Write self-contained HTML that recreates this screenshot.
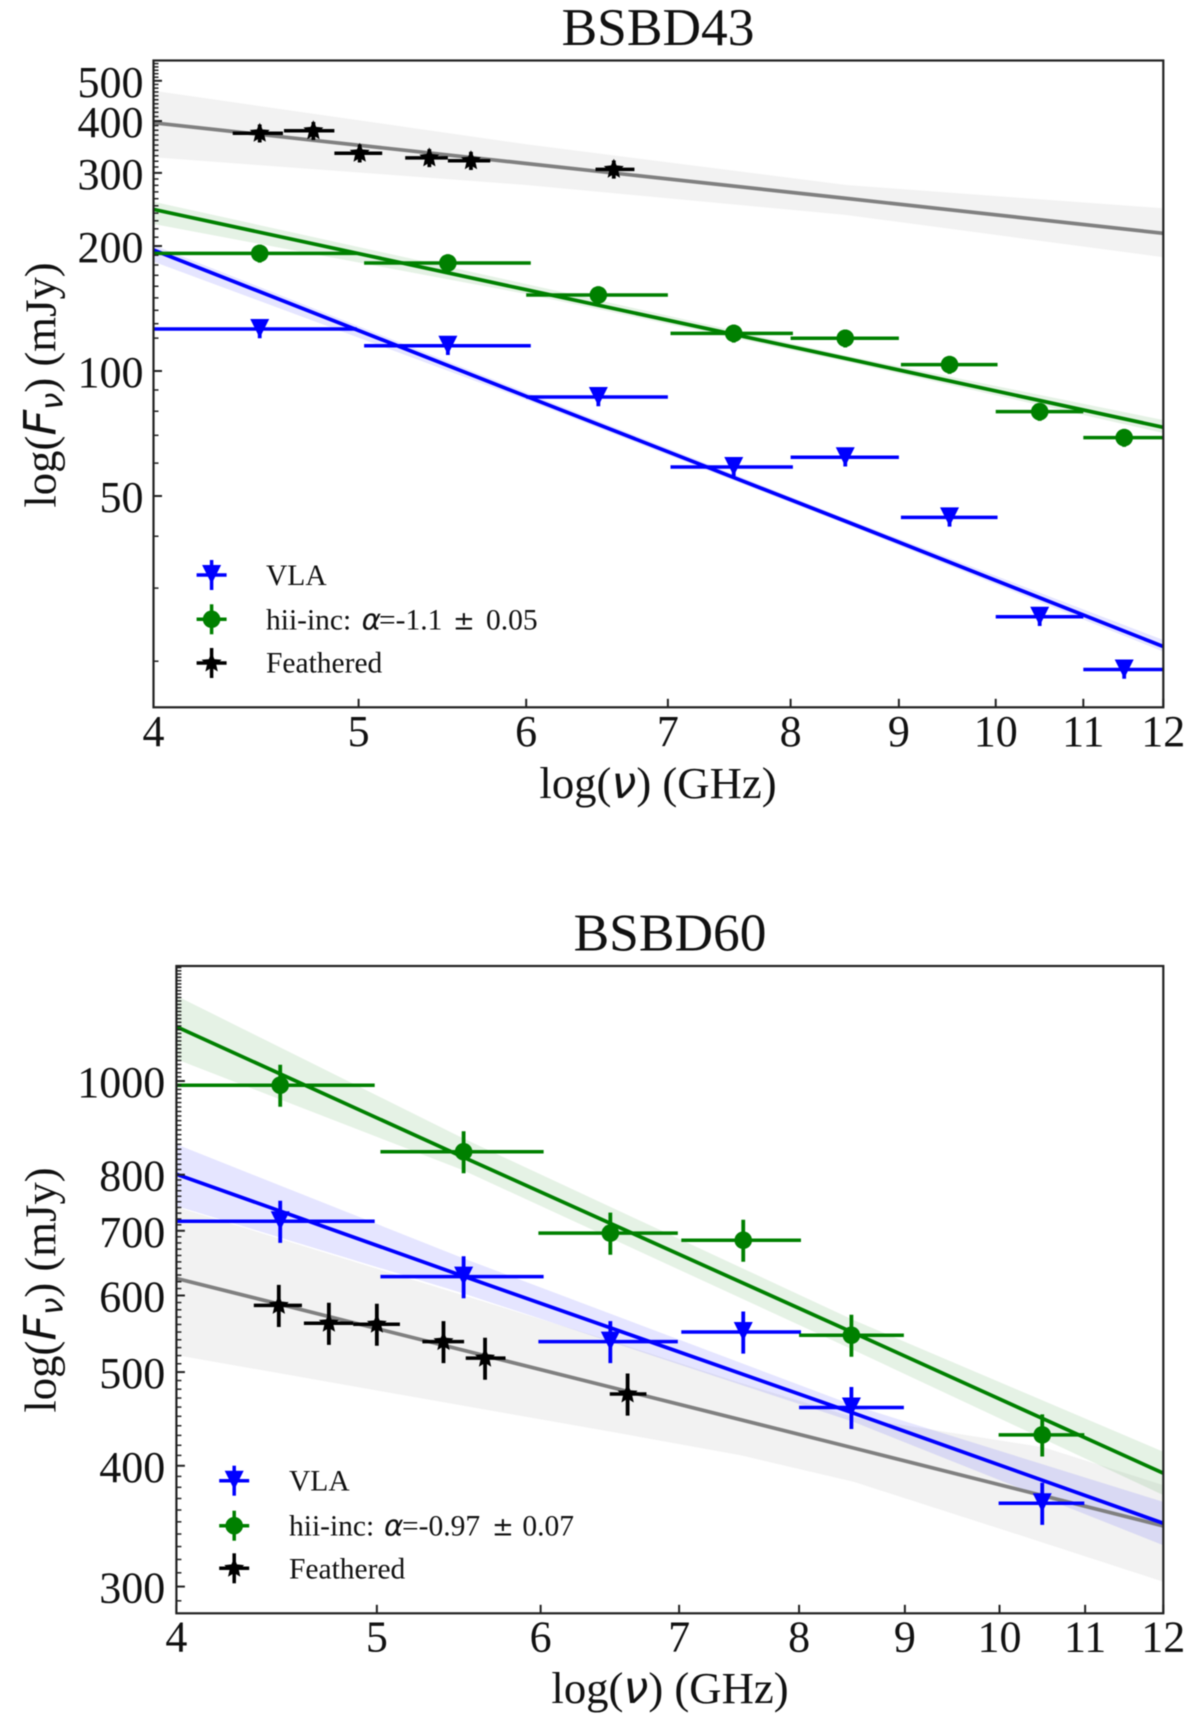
<!DOCTYPE html>
<html lang="en">
<head>
<meta charset="utf-8">
<title>BSBD43 and BSBD60 spectra</title>
<style>
html,body{margin:0;padding:0;background:#fff;}
svg{display:block;filter:blur(0.55px);}
text{font-family:"Liberation Serif",serif;fill:#111;}
.math{font-family:"DejaVu Sans",sans-serif;font-style:italic;}
.pm{font-family:"DejaVu Sans",sans-serif;font-size:26px;}
.title{font-size:53.4px;text-anchor:middle;}
.axis-label{font-size:44.7px;}
.tick{font-size:44px;}
.legend{font-size:29.5px;}
</style>
</head>
<body>
<svg id="chart" xmlns="http://www.w3.org/2000/svg" width="1200" height="1728" viewBox="0 0 1200 1728">
  <defs>
    <clipPath id="clip-p1"><rect x="153.5" y="60.5" width="1009.8" height="646.8"/></clipPath>
    <clipPath id="clip-p2"><rect x="176.4" y="966" width="986.9" height="647.3"/></clipPath>
  </defs>
  <rect width="1200" height="1728" fill="#fff"/>

  <g id="panel-1">
    <text class="title" x="658" y="45">BSBD43</text>
    <g id="p1-marks" clip-path="url(#clip-p1)"></g>
    <g id="p1-axes"></g>
    <rect x="153.5" y="60.5" width="1009.8" height="646.8" fill="none" stroke="#222" stroke-width="2.2"/>
    <text class="axis-label" x="658" y="798" text-anchor="middle">log(<tspan class="math">ν</tspan>) (GHz)</text>
    <text class="axis-label" transform="translate(55.5 385) rotate(-90)" text-anchor="middle">log(<tspan class="math">F</tspan><tspan class="math" font-size="31" dy="7">ν</tspan><tspan dy="-7">) (mJy)</tspan></text>
    <g id="p1-legend">
      <text class="legend" x="266" y="585">VLA</text>
      <text class="legend" x="266" y="629.3">hii-inc:<tspan class="math" x="361.6">α</tspan><tspan x="379">=-1.1</tspan><tspan class="pm" x="453">±</tspan><tspan x="486">0.05</tspan></text>
      <text class="legend" x="266" y="672.7">Feathered</text>
    </g>
  </g>

  <g id="panel-2">
    <text class="title" x="670" y="950.7">BSBD60</text>
    <g id="p2-marks" clip-path="url(#clip-p2)"></g>
    <g id="p2-axes"></g>
    <rect x="176.4" y="966" width="986.9" height="647.3" fill="none" stroke="#222" stroke-width="2.2"/>
    <text class="axis-label" x="670" y="1703" text-anchor="middle">log(<tspan class="math">ν</tspan>) (GHz)</text>
    <text class="axis-label" transform="translate(55.5 1290) rotate(-90)" text-anchor="middle">log(<tspan class="math">F</tspan><tspan class="math" font-size="31" dy="7">ν</tspan><tspan dy="-7">) (mJy)</tspan></text>
    <g id="p2-legend">
      <text class="legend" x="289" y="1490.7">VLA</text>
      <text class="legend" x="289" y="1535.7">hii-inc:<tspan class="math" x="384">α</tspan><tspan x="402">=-0.97</tspan><tspan class="pm" x="492">±</tspan><tspan x="522.4">0.07</tspan></text>
      <text class="legend" x="289" y="1578.3">Feathered</text>
    </g>
  </g>
</svg>

<script>
// ---------- shared tick data ----------
const xTickValues = [4, 5, 6, 7, 8, 9, 10, 11, 12];
const xTickLabels = ["4", "5", "6", "7", "8", "9", "10", "11", "12"];

// ---------- BSBD43 data (mJy, GHz) ----------
const p1YTickValues = [50, 100, 200, 300, 400, 500];
const p1YTickLabels = ["50", "100", "200", "300", "400", "500"];
const p1MinorYTicks = [20, 30, 40, 60, 70, 80, 90, 120, 130, 140, 150, 160, 170, 180, 190, 210, 220, 230, 240, 250, 260, 270, 280, 290, 310, 320, 330, 340, 350, 360, 370, 380, 390, 410, 420, 430, 440, 450, 460, 470, 480, 490, 510, 520, 530, 540, 550];

const p1BinFreq = [4.49, 5.51, 6.49, 7.52, 8.49, 9.51, 10.49, 11.5];
const p1BinLow = [4, 5.03, 6, 7.02, 8, 9.02, 10, 11];
const p1BinHigh = [4.99, 6.03, 7, 8.02, 9, 10.02, 11, 12];
const p1VlaFlux = [126.2, 115, 86.6, 58.7, 62, 44.4, 25.6, 19.1];
const p1HiiFlux = [192, 182, 152.4, 123.2, 119.9, 103.6, 79.8, 69.1];
const p1FeatheredFreq = [4.49, 4.76, 5.006, 5.40, 5.65, 6.60];
const p1FeatheredLow = [4.36, 4.61, 4.87, 5.26, 5.51, 6.47];
const p1FeatheredHigh = [4.605, 4.87, 5.13, 5.51, 5.77, 6.75];
const p1FeatheredFlux = [373.7, 379, 334.5, 326, 321, 306];

const p1FitFreq = [4, 6, 8.5, 12];
const p1VlaFit = [195.6, 86.9, 43.4, 21.7];
const p1VlaUpper = [201, 88.8, 44.1, 22.5];
const p1VlaLower = [183.4, 85.2, 42.7, 21.1];
const p1HiiFit = [245, 157, 107.1, 73.2];
const p1HiiUpper = [255.7, 162, 108.9, 76.2];
const p1HiiLower = [226, 153.3, 105.3, 70.9];
const p1FeatheredFit = [396, 316, 260.4, 214.6];
const p1FeatheredUpper = [473, 351.6, 280.5, 246.5];
const p1FeatheredLower = [327, 280.5, 237.5, 188];

// ---------- BSBD60 data (mJy, GHz) ----------
const p2YTickValues = [300, 400, 500, 600, 700, 800, 1000];
const p2YTickLabels = ["300", "400", "500", "600", "700", "800", "1000"];
const p2MinorYTicks = [];
for (let t = 290; t <= 1310; t += 10) {
  if (p2YTickValues.indexOf(t) === -1) p2MinorYTicks.push(t);
}

const p2BinFreq = [4.49, 5.507, 6.484, 7.518, 8.48, 10.487];
const p2BinLow = [4, 5.02, 5.985, 7.017, 8, 9.99];
const p2BinHigh = [4.988, 6.02, 6.99, 8.017, 8.99, 10.99];
const p2VlaFlux = [716, 627.5, 537.6, 550, 459.6, 365.8];
const p2HiiFlux = [990, 845, 696, 684.4, 545.8, 430.5];
const p2FeatheredFreq = [4.483, 4.74, 5.0, 5.385, 5.64, 6.61];
const p2FeatheredLow = [4.36, 4.61, 4.87, 5.26, 5.52, 6.48];
const p2FeatheredHigh = [4.60, 4.87, 5.13, 5.51, 5.77, 6.75];
const p2FeatheredFlux = [586, 561.6, 560.3, 537.6, 516.8, 474.5];

const p2FitFreq = [4, 5.5, 8.5, 12];
const p2VlaFit = [801, 628.7, 453.4, 348.8];
const p2VlaUpper = [860, 656, 462, 367];
const p2VlaLower = [742.5, 603.5, 444, 331];
const p2HiiFit = [1138, 834.8, 549, 393];
const p2HiiUpper = [1225, 873, 566, 413.6];
const p2HiiLower = [1053, 809, 527, 373];
const p2FeatheredFitFreq = [4, 8.5, 12];
const p2FeatheredFit = [625, 417.3, 346.6];
const p2FeatheredBandFreq = [4, 6.5, 7.5, 8.5, 10.5, 12];
const p2FeatheredUpper = [741, 538, 487, 449, 418, 382];
const p2FeatheredLower = [520.6, 433.5, 410, 385, 333, 303.5];

// ---------- measurement errors ----------
const fluxErrorFraction = 0.05;

// ---------- drawing ----------
const NS = "http://www.w3.org/2000/svg";
const BLUE = "#0000ff", GREEN = "#008000", BLACK = "#000000", GRAY = "#808080";

function makeAxes(left, right, top, bottom, yMin, yMax) {
  return {
    left: left, right: right, top: top, bottom: bottom,
    x: function (f) { return left + (right - left) * Math.log(f / 4) / Math.log(12 / 4); },
    y: function (v) { return bottom - (bottom - top) * Math.log(v / yMin) / Math.log(yMax / yMin); }
  };
}

function svgEl(tag, attrs, parent) {
  const el = document.createElementNS(NS, tag);
  for (const k in attrs) el.setAttribute(k, attrs[k]);
  parent.appendChild(el);
  return el;
}

function drawAxes(group, ax, yMajor, yLabels, yMinor, labelRight, xLabelBaseline) {
  xTickValues.forEach(function (v, i) {
    const px = ax.x(v);
    const tick = svgEl("line", { x1: px, x2: px, y1: ax.bottom, y2: ax.bottom - 8.5, stroke: "#222", "stroke-width": 2 }, group);
    
    
    const label = svgEl("text", { x: px, y: xLabelBaseline, "text-anchor": "middle", "class": "tick" }, group);
    label.textContent = xTickLabels[i];
    
    
  });
  yMajor.forEach(function (v, i) {
    const py = ax.y(v);
    const tick = svgEl("line", { x1: ax.left, x2: ax.left + 8.5, y1: py, y2: py, stroke: "#222", "stroke-width": 2 }, group);
    
    
    const label = svgEl("text", { x: labelRight, y: py + 16, "text-anchor": "end", "class": "tick" }, group);
    label.textContent = yLabels[i];
    
    
  });
  yMinor.forEach(function (v) {
    const py = ax.y(v);
    const tick = svgEl("line", { x1: ax.left, x2: ax.left + 5, y1: py, y2: py, stroke: "#222", "stroke-width": 1.5 }, group);
    
    
  });
}

function drawBand(group, ax, freqs, upper, lower, color, name) {
  const pts = [];
  freqs.forEach(function (f, i) { pts.push(ax.x(f).toFixed(1) + "," + ax.y(upper[i]).toFixed(1)); });
  for (let i = freqs.length - 1; i >= 0; i--) pts.push(ax.x(freqs[i]).toFixed(1) + "," + ax.y(lower[i]).toFixed(1));
  const band = svgEl("polygon", { points: pts.join(" "), fill: color, "fill-opacity": 0.1 }, group);
  
  
}

function drawFit(group, ax, freqs, flux, color, name) {
  const pts = freqs.map(function (f, i) { return ax.x(f).toFixed(1) + "," + ax.y(flux[i]).toFixed(1); });
  const line = svgEl("polyline", { points: pts.join(" "), fill: "none", stroke: color, "stroke-width": 3.7 }, group);
  
  
}

function markerShape(group, kind, px, py, color) {
  if (kind === "triangle") {
    return svgEl("polygon", { points: (px - 9.5) + "," + (py - 10) + " " + (px + 9.5) + "," + (py - 10) + " " + px + "," + (py + 9), fill: color }, group);
  }
  if (kind === "circle") {
    return svgEl("circle", { cx: px, cy: py, r: 8.8, fill: color }, group);
  }
  const pts = [];
  for (let k = 0; k < 10; k++) {
    const r = k % 2 === 0 ? 10.5 : 4.8;
    const a = -Math.PI / 2 + k * Math.PI / 5;
    pts.push((px + r * Math.cos(a)).toFixed(1) + "," + (py + r * Math.sin(a)).toFixed(1));
  }
  return svgEl("polygon", { points: pts.join(" "), fill: color }, group);
}

function drawPoints(group, ax, freqs, low, high, flux, color, kind, name) {
  freqs.forEach(function (f, i) {
    const v = flux[i];
    const px = ax.x(f), py = ax.y(v);
    const point = svgEl("g", {}, group);
    
    
    svgEl("line", { x1: ax.x(low[i]), x2: ax.x(high[i]), y1: py, y2: py, stroke: color, "stroke-width": 3.5 }, point);
    svgEl("line", { x1: px, x2: px, y1: ax.y(v * (1 - fluxErrorFraction)), y2: ax.y(v * (1 + fluxErrorFraction)), stroke: color, "stroke-width": 3.8 }, point);
    markerShape(point, kind, px, py, color);
  });
}

function drawLegendMarker(group, px, py, color, kind, name) {
  const mark = svgEl("g", {}, group);
  
  
  svgEl("line", { x1: px - 15, x2: px + 15, y1: py, y2: py, stroke: color, "stroke-width": 3.5 }, mark);
  svgEl("line", { x1: px, x2: px, y1: py - 15, y2: py + 15, stroke: color, "stroke-width": 3.5 }, mark);
  markerShape(mark, kind, px, py, color);
}

// ---------- panel 1 ----------
const ax1 = makeAxes(153.5, 1163.3, 60.5, 707.3, 15.49, 559.5);
const m1 = document.getElementById("p1-marks");
drawAxes(document.getElementById("p1-axes"), ax1, p1YTickValues, p1YTickLabels, p1MinorYTicks, 143.5, 746);
drawBand(m1, ax1, p1FitFreq, p1FeatheredUpper, p1FeatheredLower, GRAY, "feathered-fit-band");
drawBand(m1, ax1, p1FitFreq, p1VlaUpper, p1VlaLower, BLUE, "vla-fit-band");
drawBand(m1, ax1, p1FitFreq, p1HiiUpper, p1HiiLower, GREEN, "hii-inc-fit-band");
drawFit(m1, ax1, p1FitFreq, p1FeatheredFit, GRAY, "feathered-fit-line");
drawFit(m1, ax1, p1FitFreq, p1VlaFit, BLUE, "vla-fit-line");
drawFit(m1, ax1, p1FitFreq, p1HiiFit, GREEN, "hii-inc-fit-line");
drawPoints(m1, ax1, p1BinFreq, p1BinLow, p1BinHigh, p1VlaFlux, BLUE, "triangle", "vla-point");
drawPoints(m1, ax1, p1BinFreq, p1BinLow, p1BinHigh, p1HiiFlux, GREEN, "circle", "hii-inc-point");
drawPoints(m1, ax1, p1FeatheredFreq, p1FeatheredLow, p1FeatheredHigh, p1FeatheredFlux, BLACK, "star", "feathered-point");
const l1 = document.getElementById("p1-legend");
drawLegendMarker(l1, 211.6, 575, BLUE, "triangle", "legend-marker-vla");
drawLegendMarker(l1, 211.6, 619.3, GREEN, "circle", "legend-marker-hii-inc");
drawLegendMarker(l1, 211.6, 663, BLACK, "star", "legend-marker-feathered");

// ---------- panel 2 ----------
const ax2 = makeAxes(176.4, 1163.3, 966, 1613.3, 281.5, 1315);
const m2 = document.getElementById("p2-marks");
drawAxes(document.getElementById("p2-axes"), ax2, p2YTickValues, p2YTickLabels, p2MinorYTicks, 165.3, 1651.7);
drawBand(m2, ax2, p2FeatheredBandFreq, p2FeatheredUpper, p2FeatheredLower, GRAY, "feathered-fit-band");
drawBand(m2, ax2, p2FitFreq, p2VlaUpper, p2VlaLower, BLUE, "vla-fit-band");
drawBand(m2, ax2, p2FitFreq, p2HiiUpper, p2HiiLower, GREEN, "hii-inc-fit-band");
drawFit(m2, ax2, p2FeatheredFitFreq, p2FeatheredFit, GRAY, "feathered-fit-line");
drawFit(m2, ax2, p2FitFreq, p2VlaFit, BLUE, "vla-fit-line");
drawFit(m2, ax2, p2FitFreq, p2HiiFit, GREEN, "hii-inc-fit-line");
drawPoints(m2, ax2, p2BinFreq, p2BinLow, p2BinHigh, p2VlaFlux, BLUE, "triangle", "vla-point");
drawPoints(m2, ax2, p2BinFreq, p2BinLow, p2BinHigh, p2HiiFlux, GREEN, "circle", "hii-inc-point");
drawPoints(m2, ax2, p2FeatheredFreq, p2FeatheredLow, p2FeatheredHigh, p2FeatheredFlux, BLACK, "star", "feathered-point");
const l2 = document.getElementById("p2-legend");
drawLegendMarker(l2, 234.2, 1480.7, BLUE, "triangle", "legend-marker-vla");
drawLegendMarker(l2, 234.2, 1525.7, GREEN, "circle", "legend-marker-hii-inc");
drawLegendMarker(l2, 234.2, 1568.3, BLACK, "star", "legend-marker-feathered");
</script>
</body>
</html>
